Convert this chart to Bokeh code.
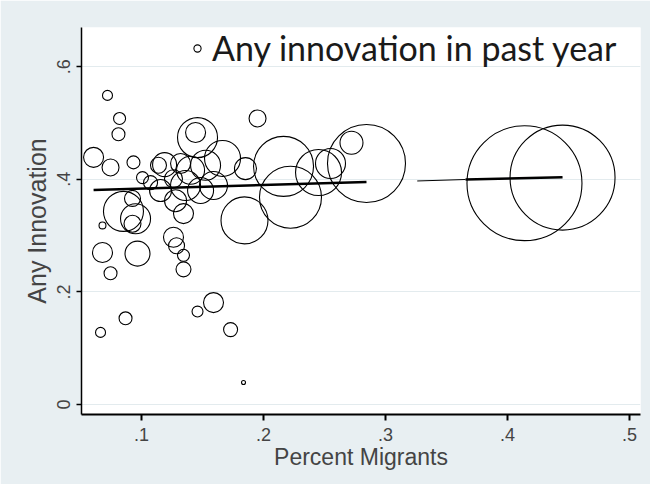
import numpy as np
from bokeh.plotting import figure
from bokeh.models import ColumnDataSource, Range1d, FixedTicker, Legend, LegendItem
from bokeh.embed import file_html
from bokeh.resources import INLINE

# ---- data ----
pct_migrants = [
    0.0721, 0.0820, 0.0811, 0.0607, 0.0746, 0.0934, 0.1008, 0.0926, 0.0852, 0.0951,
    0.0926, 0.0680, 0.0680, 0.0967, 0.0746, 0.0869, 0.0664,
    0.1459, 0.1443, 0.1664, 0.1189, 0.1320, 0.1402, 0.1525, 0.1262, 0.1361, 0.1484,
    0.1279, 0.1344, 0.1262, 0.1287, 0.1344, 0.1139, 0.1074, 0.1156, 0.1852, 0.1590,
    0.1344,
    0.1951, 0.1844, 0.1590, 0.1459, 0.1730, 0.1836,
    0.2164, 0.2221, 0.2451, 0.2549, 0.2721, 0.2844, 0.4139, 0.4451,
]
any_innovation = [
    0.549, 0.508, 0.480, 0.439, 0.421, 0.430, 0.403, 0.366, 0.343, 0.330,
    0.321, 0.318, 0.270, 0.268, 0.233, 0.153, 0.128,
    0.474, 0.483, 0.437, 0.426, 0.428, 0.416, 0.425, 0.401, 0.389, 0.380,
    0.362, 0.339, 0.297, 0.282, 0.265, 0.425, 0.394, 0.380, 0.419, 0.389,
    0.240,
    0.508, 0.327, 0.181, 0.165, 0.133, 0.039,
    0.423, 0.368, 0.412, 0.428, 0.465, 0.428, 0.393, 0.403,
]
weights = [
    25, 36, 42, 100, 72, 42, 36, 64, 400, 225,
    72, 12, 100, 156, 42, 42, 25,
    400, 100, 324, 144, 100, 196, 225, 81, 225, 169,
    121, 100, 100, 64, 36, 64, 49, 121, 121, 196,
    56,
    72, 552, 100, 30, 49, 4,
    900, 961, 529, 225, 132, 1521, 3306, 2756,
]

# fitted line (drawn in pieces)
fit_x = [[0.0607, 0.2844], [0.3260, 0.3656], [0.3656, 0.4451]]
fit_y = [[0.381, 0.395], [0.397, 0.3996], [0.3996, 0.4037]]

x_ticks = [0.1, 0.2, 0.3, 0.4, 0.5]
x_tick_labels = [".1", ".2", ".3", ".4", ".5"]
y_ticks = [0, 0.2, 0.4, 0.6]
y_tick_labels = ["0", ".2", ".4", ".6"]

legend_label = "Any innovation in past year"
x_title = "Percent Migrants"
y_title = "Any Innovation"

# ---- styles ----
BG = "#e8eff2"
GRID = "#e3ebee"
FONT = "Liberation Sans"

sizes = [2.0 * np.sqrt(w) for w in weights]
src = ColumnDataSource(dict(x=pct_migrants, y=any_innovation, s=sizes))
fit_src = ColumnDataSource(dict(xs=fit_x, ys=fit_y, w=[2.5, 1.0, 2.5]))

p = figure(
    width=650, height=484,
    output_backend="svg", toolbar_location=None,
    x_range=Range1d(0.0508, 0.509), y_range=Range1d(-0.0178, 0.6696),
    min_border_left=81, min_border_right=10, min_border_top=27, min_border_bottom=70,
)
p.border_fill_color = BG
p.background_fill_color = "white"
p.outline_line_color = None

r = p.scatter("x", "y", size="s", source=src, marker="circle",
              fill_color=None, line_color="black", line_width=1.1)
p.multi_line("xs", "ys", source=fit_src, line_color="black", line_width="w")

p.xgrid.visible = False
p.ygrid.ticker = FixedTicker(ticks=y_ticks)
p.ygrid.grid_line_color = GRID
p.ygrid.grid_line_width = 1.2

xa = p.xaxis[0]
xa.ticker = FixedTicker(ticks=x_ticks)
xa.major_label_overrides = {t: l for t, l in zip(x_ticks, x_tick_labels)}
xa.axis_label = x_title
xa.axis_line_width = 2
xa.major_tick_line_width = 2
xa.major_tick_out = 6
xa.major_tick_in = 0
xa.minor_tick_line_color = None
xa.major_label_text_font = FONT
xa.major_label_text_font_size = "18px"
xa.major_label_standoff = 7
xa.axis_label_text_font = FONT
xa.axis_label_text_font_size = "23px"
xa.axis_label_text_font_style = "normal"
xa.axis_label_standoff = 0

ya = p.yaxis[0]
ya.ticker = FixedTicker(ticks=y_ticks)
ya.major_label_overrides = {t: l for t, l in zip(y_ticks, y_tick_labels)}
ya.major_label_orientation = "vertical"
ya.axis_label = y_title
ya.axis_line_width = 1.5
ya.major_tick_line_width = 1.5
ya.major_tick_out = 5
ya.major_tick_in = 0
ya.minor_tick_line_color = None
ya.major_label_text_font = FONT
ya.major_label_text_font_size = "18px"
ya.major_label_standoff = 6
ya.axis_label_text_font = FONT
ya.axis_label_text_font_size = "25px"
ya.axis_label_text_font_style = "normal"
ya.axis_label_standoff = 4

legend = Legend(
    items=[LegendItem(label=legend_label, renderers=[r])],
    location=(107, 346),
    padding=0, margin=0, spacing=0,
    glyph_width=18, glyph_height=18, label_standoff=6,
    label_text_font="Lato", label_text_font_size="34px", label_text_color="#1a1a1a",
    background_fill_alpha=0, border_line_alpha=0,
)
p.add_layout(legend)

open("out.html", "w").write(file_html(p, INLINE))
